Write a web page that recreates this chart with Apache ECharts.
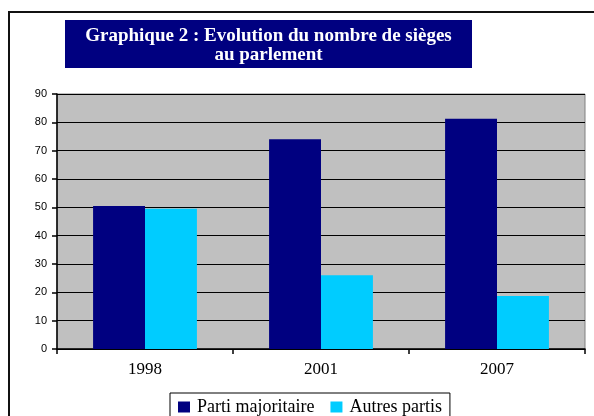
<!DOCTYPE html>
<html>
<head>
<meta charset="utf-8">
<script src="https://cdn.jsdelivr.net/npm/echarts@6/dist/echarts.min.js"></script>
<style>
  html, body { margin: 0; padding: 0; background: #fff; }
  #main { width: 594px; height: 416px; }
</style>
</head>
<body>
<div id="main"></div>
<script>
// données du graphique
const years = ['1998', '2001', '2007'];
const partiMajoritaire = [50.5, 74, 81.3];
const autresPartis = [49.5, 26, 18.7];
const seriesNames = ['Parti majoritaire', 'Autres partis'];
const titleLines = ['Graphique 2 : Evolution du nombre de sièges', 'au parlement'];

const serif = '"Liberation Serif", "Times New Roman", serif';
const sans = '"Liberation Sans", Arial, sans-serif';

const chart = echarts.init(document.getElementById('main'));

const option = {
  backgroundColor: '#fff',
  animation: false,
  graphic: [
    {
      // cadre extérieur
      type: 'rect',
      shape: { x: 9, y: 12, width: 620, height: 430 },
      style: { fill: null, stroke: '#111', lineWidth: 2 },
      z: 0
    },
    {
      type: 'rect',
      shape: { x: 65, y: 20, width: 407, height: 48 },
      style: { fill: '#000080' },
      z: 1
    },
    {
      type: 'text',
      x: 268.5,
      y: 46,
      style: {
        text: titleLines.join('\n'),
        fill: '#fff',
        font: 'bold 19px ' + serif,
        align: 'center',
        verticalAlign: 'middle',
        lineHeight: 19
      },
      z: 2
    }
  ],
  color: ['#000080', '#00CCFF'],
  legend: {
    left: 170,
    top: 393,
    data: seriesNames,
    icon: 'rect',
    itemWidth: 12,
    itemHeight: 11,
    itemGap: 16,
    padding: [5, 8, 12, 8],
    borderColor: '#000',
    borderWidth: 1,
    backgroundColor: '#fff',
    textStyle: { fontFamily: serif, fontSize: 18, color: '#000', padding: [0, 0, 0, 2] }
  },
  grid: {
    left: 57,
    top: 94,
    width: 528,
    height: 255,
    containLabel: false,
    show: true,
    backgroundColor: '#C0C0C0',
    borderColor: '#808080',
    borderWidth: 1
  },
  xAxis: {
    type: 'category',
    data: years,
    axisLine: { lineStyle: { color: '#000', width: 1.5 } },
    axisTick: { show: true, length: 5, lineStyle: { color: '#000', width: 1.5 } },
    axisLabel: { color: '#000', fontFamily: serif, fontSize: 17, margin: 12 },
    splitLine: { show: false }
  },
  yAxis: {
    type: 'value',
    min: 0,
    max: 90,
    interval: 10,
    axisLine: { show: true, lineStyle: { color: '#000', width: 1.5 } },
    axisTick: { show: true, length: 5, lineStyle: { color: '#000', width: 1.5 } },
    axisLabel: { color: '#000', fontFamily: sans, fontSize: 11, margin: 10 },
    splitLine: { show: true, lineStyle: { color: '#000', width: 1 } }
  },
  series: [
    {
      name: seriesNames[0],
      type: 'bar',
      data: partiMajoritaire,
      barGap: '0%',
      barCategoryGap: '41%'
    },
    {
      name: seriesNames[1],
      type: 'bar',
      data: autresPartis
    }
  ]
};

chart.setOption(option);
</script>
</body>
</html>
